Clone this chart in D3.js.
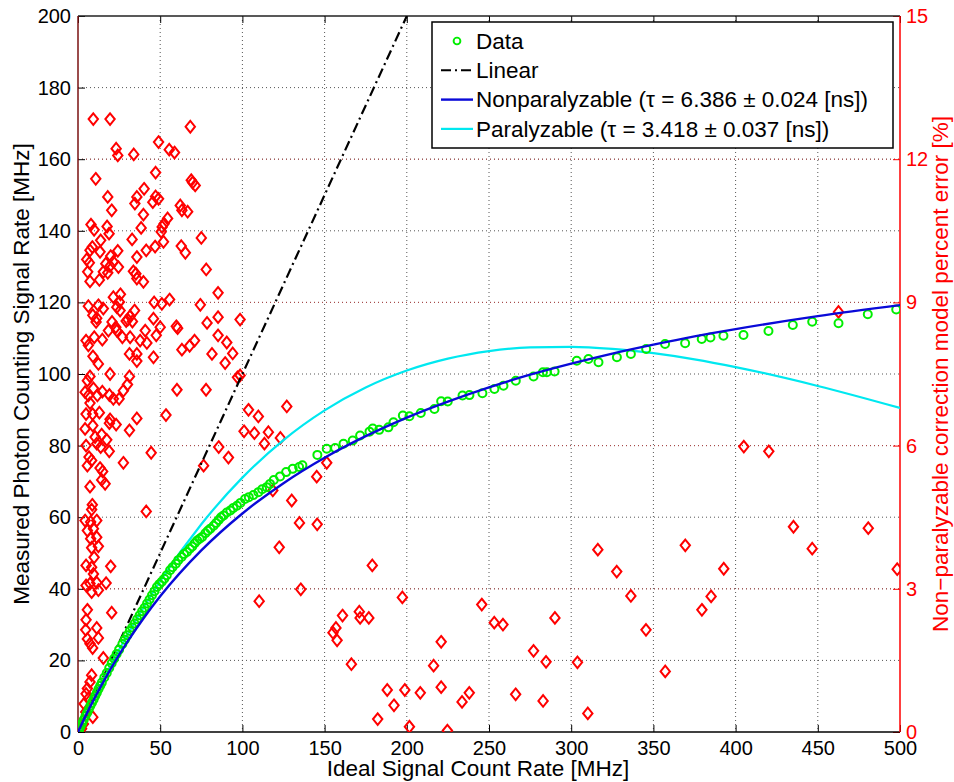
<!DOCTYPE html>
<meta charset="utf-8">
<head>
    <style>
        body {margin: 0; background: #fff;}
        svg {font-family: "Liberation Sans", Arial, Helvetica, sans-serif;}
        .grid line {stroke: #555; stroke-width: 1; stroke-dasharray: 1,3;}
        .gridR line {stroke: #b04848; stroke-width: 1; stroke-dasharray: 1,3;}
        .axis path {display: none;}
    </style>
    <script src="https://d3js.org/d3.v7.min.js"></script>
</head>
<body>
<script>

    // ideal count rate [MHz] vs measured rate [MHz]
    var dataX = [0.3,0.8,1.5,2.5,3.5,4.5,5.5,6.5,7.5,8.5,9.5,10.5,11.5,12.5,13.5,14.5,16,17.5,19,20.5,
        22,23.5,25,27,28.5,30,31.5,33,34.5,36,37.5,39,40.5,42,43.5,45,46.5,48,49.5,51,
        52.5,54,56,57.5,59.5,61,63,64.5,66.3,68,69.5,71,72.5,74,75.5,77.5,79,80.5,82.5,84,
        85.6,87,88.6,90.5,92.7,94.5,96.7,98.8,101.6,103.9,106.7,109.7,112,114.8,116.8,119.1,122.9,126.6,130.6,134.5,
        136.5,145.6,151.3,156.4,161.5,167.1,171.6,177.3,179.3,183.2,188.8,191.9,197.6,201.6,208.5,216.8,220.9,224.9,233.9,238.1,
        246,253.3,258.8,266.3,277.1,282.8,285.2,289.9,303.4,310.5,316.6,327.8,336.3,345.6,357.1,369.3,379.4,384.7,392.6,404.8,
        420,434.8,446.6,462.6,480.4,497.7];
    var dataY = [0.3,0.8,1.5,2.4,3.4,4.4,5.3,6.3,7.3,8.2,9.1,10.1,11,12,12.9,13.8,15.2,16.5,17.9,19.2,
        20.5,21.8,23,24.6,25.8,27,28.2,29.2,30.3,31.5,32.6,33.7,34.7,35.9,37,38.2,39.3,40.5,41.3,42,
        42.8,43.8,45.2,46,47,48,48.9,49.7,50.3,51.2,51.8,52.7,53.5,54,54.5,55.5,56.2,56.8,57.6,58.4,
        59.2,60,60.5,61.3,61.9,62.6,63.2,64,65.1,65.6,66.2,67,67.8,68.4,69.3,70.4,71.4,72.6,73.5,74,
        74.5,77.4,79.1,79.3,80.5,81.4,82.8,83.9,84.8,84.4,85.1,86.5,88.4,88.2,89.1,90.2,92.4,92.3,94,94.1,
        94.6,95.8,96.7,98.1,99.3,100.5,100.5,100.7,103.7,104.2,103.3,104.7,105.6,107,108.4,108.6,109.8,110.2,110.7,110.9,
        112,113.7,114.6,114.2,116.7,118];

    // fitted models, sampled
    var modelX = [0,5,10,20,30,40,50,75,100,125,150,175,200,225,250,275,300,325,350,375,400,450,500];
    var nonparY = [0,4.85,9.4,17.73,25.18,31.86,37.9,50.71,61.03,69.51,76.61,82.64,87.83,92.3,96.28,99.8,102.89,105.7,108.19,110.5,112.54,116.17,119.25];
    var parY = [0,4.92,9.66,18.68,27.08,34.89,42.15,58.04,71.05,81.54,89.83,96.22,100.96,104.28,106.38,107.43,107.6,107.02,105.81,104.09,101.93,96.66,90.52];
    var linearX = [0, 200];

    // non-paralyzable correction percent error (right axis)
    var errX = [9.3,19.5,68.3,49,55.5,58.7,23.2,24.2,33.9,10.8,47.2,68.9,71.3,69.7,18.1,40.2,35.8,34.6,45.5,47.2,
        49,20.5,39.8,62.2,63.2,66.7,54.5,52.4,51.2,7.9,9.8,17.7,18.9,38.4,32.9,50.6,52,75,13.8,8.7,
        7.3,13.4,5.3,6.9,5.9,7.3,24.2,19.9,16.9,19.5,15.4,18.1,24.6,21.5,13,41.5,46.9,62.8,65.3,35.8,
        33.7,35.2,35.8,39.8,78,85.2,21.5,25.8,25.2,23.6,25.6,6.3,12.4,15.4,9,11.4,11,46.3,51,55.7,
        74.4,85.2,78.5,85.2,34.4,31.7,30.3,29.3,33.1,45.9,40.9,50,47.6,59.8,60.6,20.7,23,18.5,23.6,9.9,
        14.8,4.9,6.3,27,31.7,37.8,41.9,31.3,35.8,35.8,45.9,63.2,67.9,70.9,81.5,9.1,12.4,19.5,7.3,5.7,
        31.3,30.1,27.6,9.4,4.3,6.3,11.8,14.8,19.1,21.5,25,7.3,60.2,77.9,4.9,8.9,13,53.5,19.5,35.8,
        19.1,23.2,31.3,4.3,9,10.4,14.4,4.9,11.4,13.8,17.5,19,44.5,27.6,6.7,8.3,5.7,13.4,15,14.4,
        16.5,76.4,85.6,7.3,8.7,8.3,41.5,4.3,7.7,11.4,5.7,9.4,11.4,7.7,12.4,8.3,9.8,4.9,8.3,19.9,
        4.9,7.3,11.4,17.1,8.3,12.4,9.4,5.7,4.9,4.7,11.4,20.5,5.7,7.3,12.4,8.9,15.4,8.3,7.3,5.7,
        4.9,6.3,3.7,4.7,9,3.3,2.2,
        90.5,94.1,89.5,98.6,97,103.7,109.7,127,101,107.3,115.8,113.4,123.1,91.5,118.5,130,122.4,110.2,98.6,
        405,420.2,435.2,446.6,480.7,498.3,369.4,392.8,385.1,379.5,357.2,345.5,336.3,327.7,316.2,303.8,310.1,290.1,284.7,282.9,
        277.1,266.2,258.5,253.2,245.6,238,233.6,224.7,220.9,220.9,216.3,208.2,201.6,198.8,197.3,192.2,188.1,182.3,179,176.9,
        171.6,171.1,166.3,160.9,157.6,156.9,155.1,151.3,145.2,145.5,135.5,134.7,462.6];
    var errY = [12.84,12.84,12.68,12.36,12.2,12.14,12.22,12.08,12.1,11.59,11.72,11.56,11.45,11.51,11.21,11.38,11.21,11.07,11.1,11.22,
        11.17,10.93,10.84,11.03,10.93,10.9,10.76,10.65,10.58,10.63,10.52,10.59,10.44,10.56,10.32,10.48,10.27,10.35,10.3,10.16,
        10.09,10.06,9.9,9.83,9.64,9.44,10.08,9.97,9.81,9.76,9.64,9.62,9.74,9.85,9.47,10.09,10.17,10.18,10.04,9.95,
        9.65,9.6,9.5,9.43,9.69,9.2,9.11,9.17,9.01,8.9,8.83,8.92,8.94,8.87,8.73,8.67,8.59,9,8.97,9.06,
        8.95,8.69,8.57,8.31,8.83,8.71,8.64,8.61,8.6,8.66,8.41,8.48,8.31,8.5,8.46,8.59,8.48,8.41,8.41,8.27,
        8.22,8.2,8.1,8.27,8.27,8.2,8.15,7.92,7.92,7.77,7.85,8.01,8.09,8.2,7.92,7.87,7.71,7.5,7.45,7.36,
        7.45,7.28,7.15,7.2,7.12,7.05,7.05,7.13,7.06,6.98,6.98,6.89,7.17,7.17,6.66,6.66,6.69,6.64,6.55,6.57,
        6.47,6.44,6.32,6.35,6.42,6.18,6.23,6,6.04,5.97,6.12,5.88,5.85,5.64,5.76,5.69,5.58,5.53,5.46,5.28,
        5.2,5.58,5.97,5.14,4.76,4.66,4.62,4.43,4.4,4.43,4.22,4.26,4.08,4.05,3.89,3.86,3.66,3.49,3.45,3.47,
        3.07,3.11,3.13,3.12,2.93,2.97,3.31,2.56,2.35,2.14,2.18,2.5,1.95,1.85,1.97,1.76,1.55,1.19,1.05,0.91,
        0.8,0.7,0.59,0.42,0.31,0.17,0.07,
        8.16,7.93,7.73,7.47,7.43,6.75,6.61,6.82,6.3,6.26,6.28,6.04,6.16,5.75,5.06,4.85,3.87,2.74,8.64,
        5.98,5.88,4.3,3.84,4.27,3.41,3.91,3.42,2.84,2.56,1.27,2.14,2.85,3.36,3.82,1.46,0.39,2.39,1.47,0.65,
        1.7,0.79,2.25,2.29,2.67,0.82,0.63,0.03,0.94,1.89,1.39,0.82,0.11,0.88,2.82,0.56,0.88,0.27,3.49,2.39,
        2.39,2.52,1.42,2.44,1.92,2.18,2.08,5.64,5.35,4.35,2.99,4.38,8.8];

    var xTicks = d3.range(0, 501, 50),
        yTicks = d3.range(0, 201, 20),
        rTicks = [0, 3, 6, 9, 12, 15];

    var legendLabels = ["Data", "Linear",
        "Nonparalyzable (\u03c4 = 6.386 \u00b1 0.024 [ns])",
        "Paralyzable (\u03c4 = 3.418 \u00b1 0.037 [ns])"];

    var margin = {top: 16, right: 54, bottom: 50, left: 78},
        W = 954, H = 782,
        width = W - margin.left - margin.right,
        height = H - margin.top - margin.bottom;

    var x = d3.scaleLinear().domain([0, 500]).range([0, width]);
    var y = d3.scaleLinear().domain([0, 200]).range([height, 0]);
    var yR = d3.scaleLinear().domain([0, 15]).range([height, 0]);

    var svg = d3.select("body").append("svg")
        .attr("width", W)
        .attr("height", H)
      .append("g")
        .attr("transform", "translate(" + margin.left + "," + margin.top + ")");

    // grids
    svg.append("g").attr("class", "grid")
        .selectAll("line").data(xTicks.slice(1, -1))
      .enter().append("line")
        .attr("x1", d => x(d)).attr("x2", d => x(d))
        .attr("y1", 0).attr("y2", height);

    svg.append("g").attr("class", "grid")
        .selectAll("line").data(yTicks.slice(1, -1))
      .enter().append("line")
        .attr("x1", 0).attr("x2", width)
        .attr("y1", d => y(d)).attr("y2", d => y(d));

    svg.append("g").attr("class", "gridR")
        .selectAll("line").data(rTicks.slice(1, -1))
      .enter().append("line")
        .attr("x1", 0).attr("x2", width)
        .attr("y1", d => yR(d)).attr("y2", d => yR(d));

    // axes
    var fs = "20px";
    var gx = svg.append("g").attr("class", "axis")
        .attr("transform", "translate(0," + height + ")")
        .call(d3.axisBottom(x).tickValues(xTicks).tickSize(-7).tickPadding(9));
    gx.selectAll("text").style("font-size", fs).attr("fill", "#000");
    gx.selectAll("line").attr("stroke", "#000");

    svg.append("g").attr("class", "axis")
        .call(d3.axisTop(x).tickValues(xTicks).tickSize(-7).tickFormat(""))
        .selectAll("line").attr("stroke", "#000");

    var gy = svg.append("g").attr("class", "axis")
        .call(d3.axisLeft(y).tickValues(yTicks).tickSize(-7).tickPadding(7));
    gy.selectAll("text").style("font-size", fs).attr("fill", "#000");
    gy.selectAll("line").attr("stroke", "#000");

    var gr = svg.append("g").attr("class", "axis")
        .attr("transform", "translate(" + width + ",0)")
        .call(d3.axisRight(yR).tickValues(rTicks).tickSize(-7).tickPadding(6));
    gr.selectAll("text").style("font-size", fs).attr("fill", "#ff0000");
    gr.selectAll("line").attr("stroke", "#ff0000");

    // frame
    svg.append("line").attr("x1", 0).attr("x2", width).attr("y1", 0).attr("y2", 0)
        .attr("stroke", "#222").attr("stroke-width", 1.5);
    svg.append("line").attr("x1", 0).attr("x2", width).attr("y1", height).attr("y2", height)
        .attr("stroke", "#000").attr("stroke-width", 1.5);
    svg.append("line").attr("x1", 0).attr("x2", 0).attr("y1", 0).attr("y2", height)
        .attr("stroke", "#7a1010").attr("stroke-width", 1.5);
    svg.append("line").attr("x1", width).attr("x2", width).attr("y1", 0).attr("y2", height)
        .attr("stroke", "#ff0000").attr("stroke-width", 1.5);

    var plot = svg.append("g");
    plot.append("defs").append("clipPath").attr("id", "clip")
      .append("rect").attr("width", width).attr("height", height);
    plot.attr("clip-path", "url(#clip)");

    // error diamonds
    var diamond = "M0,-5.8L4.7,0L0,5.8L-4.7,0Z";
    plot.append("g").selectAll("path")
        .data(errX.map((d, i) => [d, errY[i]]))
      .enter().append("path")
        .attr("d", diamond)
        .attr("transform", d => "translate(" + x(d[0]) + "," + yR(d[1]) + ")")
        .attr("fill", "none")
        .attr("stroke", "#ff0000")
        .attr("stroke-width", 2);

    // linear
    plot.append("path")
        .datum(linearX)
        .attr("d", d3.line().x(d => x(d)).y(d => y(d)))
        .attr("fill", "none")
        .attr("stroke", "#000")
        .attr("stroke-width", 2.2)
        .attr("stroke-dasharray", "10,4,2,4");

    // paralyzable / nonparalyzable curves
    var curve = d3.line().curve(d3.curveMonotoneX);
    plot.append("path")
        .datum(modelX.map((d, i) => [x(d), y(parY[i])]))
        .attr("d", curve)
        .attr("fill", "none")
        .attr("stroke", "#00e8f0")
        .attr("stroke-width", 2.2);

    // data circles
    plot.append("g").selectAll("circle")
        .data(dataX.map((d, i) => [d, dataY[i]]))
      .enter().append("circle")
        .attr("cx", d => x(d[0]))
        .attr("cy", d => y(d[1]))
        .attr("r", 4)
        .attr("fill", "none")
        .attr("stroke", "#00ee00")
        .attr("stroke-width", 2);

    plot.append("path")
        .datum(modelX.map((d, i) => [x(d), y(nonparY[i])]))
        .attr("d", curve)
        .attr("fill", "none")
        .attr("stroke", "#0a0ad8")
        .attr("stroke-width", 2.4);

    // axis titles
    var tfs = "22.5px";
    svg.append("text")
        .attr("x", x(250) - 11).attr("y", height + 44)
        .attr("text-anchor", "middle")
        .style("font-size", tfs)
        .text("Ideal Signal Count Rate [MHz]");

    svg.append("text")
        .attr("transform", "translate(" + (-49.5) + "," + (height / 2) + ") rotate(-90)")
        .attr("text-anchor", "middle")
        .style("font-size", tfs)
        .text("Measured Photon Counting Signal Rate [MHz]");

    svg.append("text")
        .attr("transform", "translate(" + (width + 48) + "," + (height / 2) + ") rotate(-90)")
        .attr("text-anchor", "middle")
        .attr("fill", "#ff0000")
        .style("font-size", tfs)
        .text("Non\u2212paralyzable correction model percent error [%]");

    // legend
    var lg = svg.append("g").attr("transform", "translate(" + (432 - margin.left) + "," + (22 - margin.top) + ")");
    lg.append("rect")
        .attr("width", 461).attr("height", 126)
        .attr("fill", "#fff").attr("stroke", "#000").attr("stroke-width", 1.5);

    var rows = lg.selectAll("g.row").data(legendLabels)
      .enter().append("g")
        .attr("class", "row")
        .attr("transform", (d, i) => "translate(0," + (19 + i * 29.3) + ")");

    rows.append("text")
        .attr("x", 44).attr("dy", "0.35em")
        .style("font-size", tfs)
        .text(d => d);

    rows.filter((d, i) => i == 0).append("circle")
        .attr("cx", 25).attr("r", 3.4)
        .attr("fill", "none").attr("stroke", "#00ee00").attr("stroke-width", 1.9);

    var sample = [["#000", "10,4,2,4", 2], ["#0a0ad8", null, 2.4], ["#00e8f0", null, 2.2]];
    rows.filter((d, i) => i > 0).append("line")
        .attr("x1", 9).attr("x2", 41)
        .attr("stroke", (d, i) => sample[i][0])
        .attr("stroke-dasharray", (d, i) => sample[i][1])
        .attr("stroke-width", (d, i) => sample[i][2]);

</script>
</body>
